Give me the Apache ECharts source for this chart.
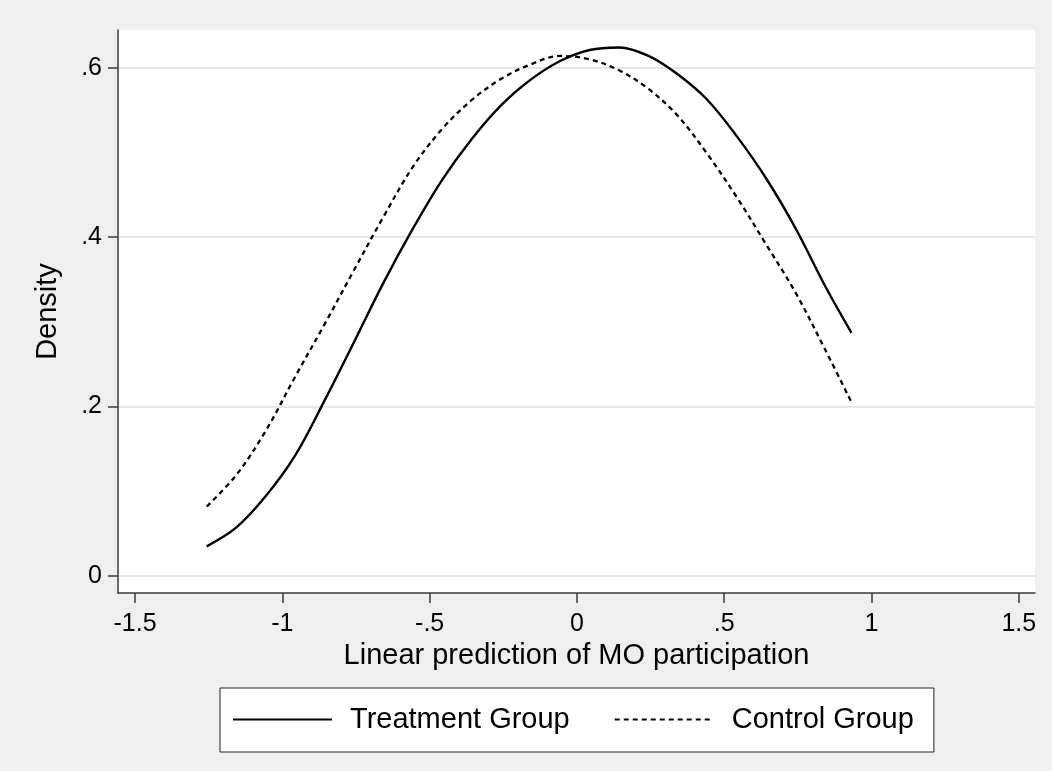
<!DOCTYPE html>
<html style="height: 100%">
<head>
<meta charset="UTF-8">
<title>Density</title>
<script src="https://cdn.jsdelivr.net/npm/echarts@6/dist/echarts.min.js"></script>
<style>
  html, body { margin: 0; padding: 0; background: #efefef; }
  #main { width: 1052px; height: 771px; }
</style>
</head>
<body>
<div id="main"></div>
<script>
// values
var xTicks = [-1.5, -1, -0.5, 0, 0.5, 1, 1.5];
var yTicks = [0, 0.2, 0.4, 0.6];

var gridX = [-1.257, -1.157, -1.057, -0.957, -0.857, -0.757, -0.657, -0.557, -0.457, -0.357, -0.257, -0.157, -0.057, 0.043, 0.143, 0.243, 0.343, 0.443, 0.543, 0.643, 0.743, 0.843, 0.932];
var treatY = [0.035, 0.057, 0.094, 0.142, 0.207, 0.276, 0.346, 0.410, 0.468, 0.516, 0.556, 0.586, 0.608, 0.621, 0.624, 0.614, 0.592, 0.562, 0.519, 0.469, 0.410, 0.342, 0.287];
var ctrlY  = [0.082, 0.119, 0.171, 0.235, 0.297, 0.361, 0.424, 0.483, 0.528, 0.562, 0.587, 0.604, 0.614, 0.610, 0.597, 0.575, 0.543, 0.498, 0.447, 0.391, 0.334, 0.267, 0.205];

function pairs(xs, ys) {
    var out = [];
    for (var i = 0; i < xs.length; i++) out.push([xs[i], ys[i]]);
    return out;
}

// Stata style numbers: .5 instead of 0.5
function stataNum(v) {
    return String(v).replace('0.', '.');
}

var font = 'Liberation Sans, Arial, sans-serif';
var axisColor = '#3a3a3a';

var myChart = echarts.init(document.getElementById('main'));
var option = {
    backgroundColor: '#efefef',
    textStyle: { fontFamily: font, color: '#000' },
    animation: false,
    grid: {
        left: 118, top: 30, right: 17, bottom: 178,
        show: true, backgroundColor: '#fff', borderWidth: 0,
        containLabel: false, outerBoundsMode: 'none'
    },
    xAxis: {
        type: 'value',
        min: -1.558, max: 1.555,
        name: 'Linear prediction of MO participation',
        nameLocation: 'middle',
        nameGap: 44,
        nameTextStyle: { fontSize: 29, color: '#000', fontFamily: font },
        axisLine: { show: true, onZero: false, lineStyle: { color: axisColor, width: 1.5 } },
        axisTick: { show: true, inside: false, length: 10, customValues: xTicks, lineStyle: { color: axisColor, width: 1.5 } },
        axisLabel: { customValues: xTicks, fontSize: 25, color: '#000', margin: 19, formatter: stataNum },
        splitLine: { show: false }
    },
    yAxis: {
        type: 'value',
        min: -0.0201, max: 0.6446,
        name: 'Density',
        nameLocation: 'middle',
        nameGap: 56,
        nameTextStyle: { fontSize: 29, color: '#000', fontFamily: font },
        axisLine: { show: true, onZero: false, lineStyle: { color: axisColor, width: 1.5 } },
        axisTick: { show: true, inside: false, length: 10, customValues: yTicks, lineStyle: { color: axisColor, width: 1.5 } },
        axisLabel: { customValues: yTicks, fontSize: 25, color: '#000', margin: 16, formatter: stataNum },
        splitLine: { show: true, lineStyle: { color: '#e6e6e6', width: 2 } }
    },
    legend: {
        data: ['Treatment Group', 'Control Group'],
        left: 220, top: 688,
        orient: 'horizontal',
        backgroundColor: '#fff',
        borderColor: '#222',
        borderWidth: 1,
        borderRadius: 0,
        padding: [17, 20, 18, 12],
        itemWidth: 99,
        itemHeight: 20,
        itemGap: 44,
        selectedMode: false,
        itemStyle: { opacity: 0 },
        textStyle: { fontSize: 29, color: '#000', fontFamily: font, padding: [0, 0, 0, 13] }
    },
    series: [
        {
            name: 'Treatment Group',
            type: 'line',
            data: pairs(gridX, treatY),
            symbol: 'none',
            smooth: 0.35,
            lineStyle: { color: '#000', width: 2.4, type: 'solid' },
            itemStyle: { color: '#000' }
        },
        {
            name: 'Control Group',
            type: 'line',
            data: pairs(gridX, ctrlY),
            symbol: 'none',
            smooth: 0.35,
            lineStyle: { color: '#000', width: 2.3, type: [5, 4] },
            itemStyle: { color: '#000' }
        }
    ]
};
myChart.setOption(option, true);
</script>
</body>
</html>
